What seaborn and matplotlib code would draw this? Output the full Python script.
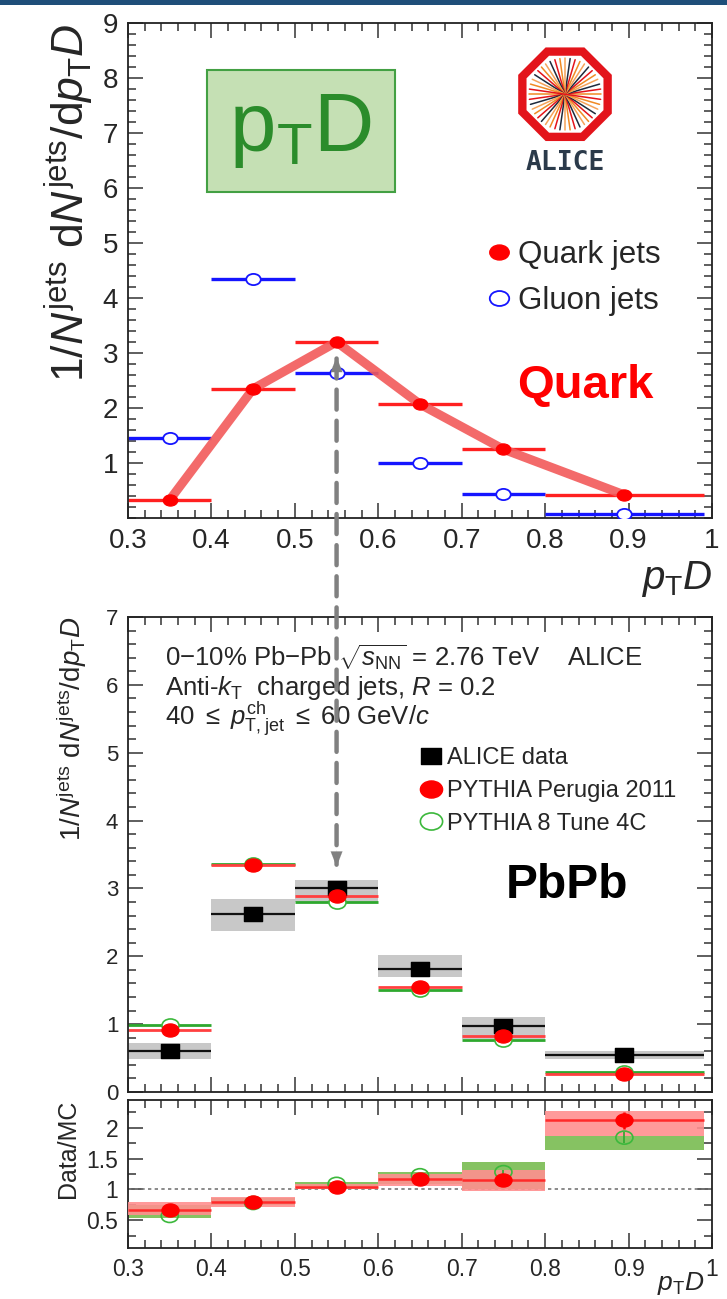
import numpy as np
import pandas as pd
import seaborn as sns
import matplotlib.pyplot as plt
from matplotlib.patches import Rectangle, RegularPolygon, ConnectionPatch
from matplotlib.lines import Line2D
from matplotlib.path import Path
from matplotlib.transforms import Affine2D

# bins of p_T D
bin_lo = [0.3, 0.4, 0.5, 0.6, 0.7, 0.8]
bin_hi = [0.4, 0.5, 0.6, 0.7, 0.8, 0.99]
bin_mid = [0.35, 0.45, 0.55, 0.65, 0.75, 0.895]

# top panel: quark / gluon templates
quark = [0.33, 2.35, 3.20, 2.07, 1.25, 0.42]
gluon = [1.45, 4.35, 2.63, 1.00, 0.43, 0.08]

# PbPb panel
alice = [0.60, 2.63, 3.00, 1.82, 0.97, 0.55]
alice_sys_lo = [0.48, 2.38, 2.80, 1.70, 0.78, 0.49]
alice_sys_hi = [0.72, 2.85, 3.12, 2.02, 1.10, 0.61]
perugia = [0.91, 3.34, 2.89, 1.55, 0.83, 0.26]
pythia8 = [0.99, 3.36, 2.80, 1.50, 0.77, 0.29]

# Data/MC panel
ratio_perugia = [0.66, 0.80, 1.04, 1.17, 1.15, 2.12]
ratio_perugia_stat = [0.02, 0.02, 0.02, 0.03, 0.04, 0.14]
ratio_perugia_lo = [0.58, 0.72, 1.00, 1.05, 0.98, 1.86]
ratio_perugia_hi = [0.80, 0.88, 1.08, 1.25, 1.32, 2.27]
ratio_pythia8 = [0.57, 0.78, 1.09, 1.23, 1.28, 1.84]
ratio_pythia8_stat = [0.02, 0.02, 0.02, 0.03, 0.04, 0.09]
ratio_pythia8_lo = [0.53, 0.74, 1.00, 1.08, 1.00, 1.645]
ratio_pythia8_hi = [0.75, 0.86, 1.12, 1.29, 1.44, 1.86]

top = pd.DataFrame({'lo': bin_lo, 'hi': bin_hi, 'x': bin_mid, 'quark': quark, 'gluon': gluon})
pb = pd.DataFrame({'lo': bin_lo, 'hi': bin_hi, 'x': bin_mid, 'alice': alice,
                   'slo': alice_sys_lo, 'shi': alice_sys_hi, 'perugia': perugia, 'pythia8': pythia8})
rat = pd.DataFrame({'lo': bin_lo, 'hi': bin_hi, 'x': bin_mid,
                    'per': ratio_perugia, 'per_err': ratio_perugia_stat,
                    'per_lo': ratio_perugia_lo, 'per_hi': ratio_perugia_hi,
                    'p8': ratio_pythia8, 'p8_err': ratio_pythia8_stat,
                    'p8_lo': ratio_pythia8_lo, 'p8_hi': ratio_pythia8_hi})

sns.set_theme(style='ticks')
plt.rcParams['font.family'] = ['Liberation Sans', 'DejaVu Sans']
plt.rcParams['mathtext.fontset'] = 'custom'
plt.rcParams['mathtext.rm'] = 'Liberation Sans'
plt.rcParams['mathtext.it'] = 'Liberation Sans:italic'
plt.rcParams['mathtext.bf'] = 'Liberation Sans:bold'
plt.rcParams['axes.edgecolor'] = '#222222'
plt.rcParams['axes.linewidth'] = 1.3

# the picture is a bit wider than tall, markers too
ell = Path.unit_circle().transformed(Affine2D().scale(1.3, 1.0))
box = Path.unit_rectangle().transformed(Affine2D().translate(-0.5, -0.5).scale(1.25, 1.0))

fig = plt.figure(figsize=(7.27, 12.99), dpi=100)
W, H = 727, 1299

def px_axes(x0, y0, x1, y1):
    return fig.add_axes([x0 / W, 1 - y1 / H, (x1 - x0) / W, (y1 - y0) / H])

ax1 = px_axes(128, 23, 712, 518)
ax2 = px_axes(128, 617, 712, 1092)
ax3 = px_axes(128, 1100, 712, 1248)

def root_ticks(ax, xminor, ymajor, yminor, lsize):
    ax.set_xticks(np.arange(0.3, 1.001, 0.1))
    ax.set_xticks(np.arange(0.3, 1.001, xminor), minor=True)
    ax.set_yticks(ymajor)
    ax.set_yticks(yminor, minor=True)
    ax.tick_params(which='both', direction='in', top=True, right=True, color='#333333', width=1.1)
    ax.tick_params(which='major', length=11, labelsize=lsize, pad=7)
    ax.tick_params(which='minor', length=5.5)

# ---------------- top panel
ax1.set_xlim(0.3, 1.0)
ax1.set_ylim(0, 9)
ax1.hlines(top['gluon'], top['lo'], top['hi'], color='#1515ff', lw=2.4, zorder=2)
ax1.hlines(top['quark'], top['lo'], top['hi'], color='#ff2020', lw=2.4, zorder=2)
sns.scatterplot(x='x', y='gluon', data=top, ax=ax1, s=110, marker=ell, facecolor='white',
                edgecolor='#1515ff', linewidth=1.3, zorder=3)
sns.lineplot(x='x', y='quark', data=top, ax=ax1, color='#f25a5a', lw=6.5, alpha=0.9,
             zorder=4, sort=False)
sns.scatterplot(x='x', y='quark', data=top, ax=ax1, s=110, marker=ell, color='#ff0000',
                edgecolor='#ff0000', zorder=5)
root_ticks(ax1, 0.02, np.arange(1, 10), np.arange(0, 9.01, 0.2), 20)
ax1.set_xticklabels(['0.3', '0.4', '0.5', '0.6', '0.7', '0.8', '0.9', '1'])
ax1.set_ylabel(r'1/$N^{\rm jets}$ d$N^{\rm jets}$/d$p_{\rm T}D$', fontsize=32, loc='top')
ax1.yaxis.set_label_coords(-0.055, 1.0)
ax1.set_xlabel(r'$p_{\rm T}D$', fontsize=29, loc='right', labelpad=4)
h1 = [Line2D([], [], marker=ell, ls='', color='#ff0000', ms=14),
      Line2D([], [], marker=ell, ls='', mfc='white', mec='#1515ff', mew=1.3, ms=14)]
ax1.legend(h1, ['Quark jets', 'Gluon jets'], frameon=False, fontsize=22.5, loc='upper left',
           bbox_to_anchor=(452 / W, 1 - 212 / H), bbox_transform=fig.transFigure,
           handletextpad=0.0, labelspacing=0.5, handlelength=1.2)
fig.text(517 / W, 1 - 386 / H, 'Quark', color='#ff0000',
         fontsize=34, fontweight='bold', va='center', ha='left')

# p_T D label box
fig.add_artist(Rectangle((207 / W, 1 - 192 / H), 188 / W, 122 / H, transform=fig.transFigure,
                         facecolor='#c5e0b4', edgecolor='#43a043', lw=1.5))
fig.text(301 / W, 1 - 131 / H, r'p$_{\rm T}$D', color='#2b8c2b', fontsize=60,
         ha='center', va='center')

# ALICE logo
lax = fig.add_axes([505 / W, 1 - 182 / H, 120 / W, 140 / H])
lax.set_xlim(-1.3, 1.3)
lax.set_ylim(-1.9, 1.13)
lax.set_aspect('equal')
lax.axis('off')
lax.add_patch(RegularPolygon((0, 0), 8, radius=1.0, orientation=np.pi / 8,
                             facecolor='white', edgecolor='#e3141b', lw=6))
ray_cols = ['#f08a24', '#e3141b', '#1e2a3c', '#f5a35a']
for i, a in enumerate(np.linspace(0, np.pi, 22, endpoint=False)):
    r = 0.78
    lax.plot([-r * np.cos(a), r * np.cos(a)], [-r * np.sin(a), r * np.sin(a)],
             color=ray_cols[i % 4], lw=1.1)
lax.text(0, -1.5, 'ALICE', ha='center', va='center', fontsize=19, color='#2b3a4a',
         family='DejaVu Sans Mono', fontweight='bold')

# ---------------- PbPb panel
ax2.set_xlim(0.3, 1.0)
ax2.set_ylim(0, 7)
ax2.bar(pb['lo'], pb['shi'] - pb['slo'], bottom=pb['slo'], width=pb['hi'] - pb['lo'],
        align='edge', color='#c8c8c8', lw=0, zorder=1)
ax2.hlines(pb['alice'], pb['lo'], pb['hi'], color='#111111', lw=1.6, zorder=2)
ax2.hlines(pb['pythia8'], pb['lo'], pb['hi'], color='#2ea82e', lw=2.0, zorder=2)
ax2.hlines(pb['perugia'], pb['lo'], pb['hi'], color='#ff4040', lw=2.0, zorder=2)
sns.scatterplot(x='x', y='alice', data=pb, ax=ax2, marker=box, s=170, color='black',
                edgecolor='black', zorder=4)
sns.scatterplot(x='x', y='pythia8', data=pb, ax=ax2, marker=ell, s=150, facecolor='white',
                edgecolor='#3cb83c', linewidth=1.2, zorder=3)
sns.scatterplot(x='x', y='perugia', data=pb, ax=ax2, marker=ell, s=150, color='#ff0000',
                edgecolor='#ff0000', zorder=5)
root_ticks(ax2, 0.02, np.arange(0, 8), np.arange(0, 7.01, 0.2), 16)
ax2.tick_params(labelbottom=False)
ax2.set_xlabel('')
ax2.set_ylabel(r'1/$N^{\rm jets}$ d$N^{\rm jets}$/d$p_{\rm T}D$', fontsize=20, loc='top')
ax2.yaxis.set_label_coords(-0.066, 1.0)
txt_kw = dict(fontsize=18.5, ha='left', va='center')
fig.text(165 / W, 1 - 658 / H, r'0$-$10% Pb$-$Pb $\sqrt{s_{\rm NN}}$ = 2.76 TeV    ALICE', **txt_kw)
fig.text(165 / W, 1 - 688 / H, r'Anti-$k_{\rm T}$  charged jets, $R$ = 0.2', **txt_kw)
fig.text(165 / W, 1 - 719 / H, r'40 $\leq$ $p_{\rm T,jet}^{\rm ch}$ $\leq$ 60 GeV/$c$', **txt_kw)
h2 = [Line2D([], [], marker=box, ls='', color='black', ms=15),
      Line2D([], [], marker=ell, ls='', color='#ff0000', ms=16),
      Line2D([], [], marker=ell, ls='', mfc='white', mec='#3cb83c', mew=1.2, ms=16)]
ax2.legend(h2, ['ALICE data', 'PYTHIA Perugia 2011', 'PYTHIA 8 Tune 4C'], frameon=False,
           fontsize=17, loc='upper left', bbox_to_anchor=(394 / W, 1 - 726 / H),
           bbox_transform=fig.transFigure, handletextpad=0.05, labelspacing=0.45,
           handlelength=1.3)
fig.text(506 / W, 1 - 886 / H, 'PbPb', fontsize=34.5, fontweight='bold', ha='left',
         va='center', color='black')

# ---------------- ratio panel
ax3.set_xlim(0.3, 1.0)
ax3.set_ylim(0.05, 2.45)
ax3.axhline(1.0, color='#777777', lw=1.2, ls=(0, (2, 2)), zorder=1)
ax3.bar(rat['lo'], rat['p8_hi'] - rat['p8_lo'], bottom=rat['p8_lo'], width=rat['hi'] - rat['lo'],
        align='edge', color='#86c262', lw=0, zorder=2)
ax3.bar(rat['lo'], rat['per_hi'] - rat['per_lo'], bottom=rat['per_lo'], width=rat['hi'] - rat['lo'],
        align='edge', color='#ff8f8f', alpha=0.9, lw=0, zorder=3)
ax3.errorbar(rat['x'], rat['p8'], yerr=rat['p8_err'], fmt='none', ecolor='#2ea82e',
             elinewidth=1.2, zorder=4)
sns.scatterplot(x='x', y='p8', data=rat, ax=ax3, marker=ell, s=150, facecolor='none',
                edgecolor='#3cb83c', linewidth=1.2, zorder=4)
ax3.hlines(rat['per'], rat['lo'], rat['hi'], color='#ff2a2a', lw=1.8, zorder=5)
ax3.errorbar(rat['x'], rat['per'], yerr=rat['per_err'], fmt='none', ecolor='#ff0000',
             elinewidth=1.8, zorder=5)
sns.scatterplot(x='x', y='per', data=rat, ax=ax3, marker=ell, s=150, color='#ff0000',
                edgecolor='#ff0000', zorder=6)
root_ticks(ax3, 0.02, [0.5, 1.0, 1.5, 2.0], np.arange(0.25, 2.45, 0.25), 16.5)
ax3.set_yticklabels(['0.5', '1', '1.5', '2'])
ax3.set_xticklabels(['0.3', '0.4', '0.5', '0.6', '0.7', '0.8', '0.9', '1'])
ax3.set_ylabel('Data/MC', fontsize=18, loc='top')
ax3.yaxis.set_label_coords(-0.082, 1.0)
ax3.set_xlabel(r'$p_{\rm T}D$', fontsize=19, ha='right', va='top')
ax3.xaxis.set_label_coords(0.987, -0.148)

# dashed arrow linking the two panels
con = ConnectionPatch(xyA=(0.55, 2.9), coordsA=ax1.transData,
                      xyB=(0.55, 3.35), coordsB=ax2.transData,
                      arrowstyle='-', color='#808080', lw=3.2, ls=(0, (4.5, 2.5)), zorder=10)
fig.add_artist(con)
ax1.annotate('', xy=(0.55, 2.98), xytext=(0.55, 2.6),
             arrowprops=dict(arrowstyle='-|>,head_width=0.35,head_length=0.9',
                             color='#808080', lw=0.1), zorder=10)
ax2.annotate('', xy=(0.55, 3.28), xytext=(0.55, 3.6),
             arrowprops=dict(arrowstyle='-|>,head_width=0.35,head_length=0.9',
                             color='#808080', lw=0.1), zorder=10)

# header bar
fig.add_artist(Rectangle((0, 1 - 5 / H), 1, 5 / H, transform=fig.transFigure,
                         facecolor='#1f4e79', lw=0))

fig.savefig('out.png', dpi=100)
